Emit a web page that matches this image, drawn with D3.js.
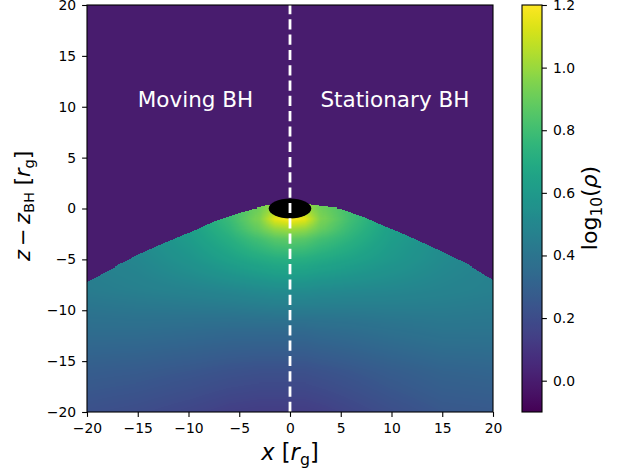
<!DOCTYPE html>
<html>
<head>
<meta charset="utf-8">
<script src="https://cdn.jsdelivr.net/npm/d3@7"></script>
<style>
  html, body { margin: 0; padding: 0; background: #fff; }
  svg { display: block; font-family: "DejaVu Sans", sans-serif; }
</style>
</head>
<body>
<script>
// Grid nodes (in r_g) on which log10(rho) is sampled
const X_NODES = [-20, -15, -10, -6, -3, -1.5, 0, 1.5, 3, 6, 10, 15, 20];
const Z_NODES = [-20, -16, -12, -8, -5, -3, -2, -1, 0, 1];

// log10(rho) at each (z, x) node; rows follow Z_NODES, columns follow X_NODES
const LOG_RHO_ROW_Zm20 = [0.22, 0.20, 0.17, 0.14, 0.13, 0.13, 0.13, 0.13, 0.14, 0.17, 0.21, 0.25, 0.26];
const LOG_RHO_ROW_Zm16 = [0.28, 0.27, 0.25, 0.23, 0.22, 0.22, 0.22, 0.22, 0.23, 0.25, 0.28, 0.31, 0.32];
const LOG_RHO_ROW_Zm12 = [0.36, 0.36, 0.35, 0.34, 0.34, 0.34, 0.34, 0.34, 0.35, 0.36, 0.38, 0.40, 0.40];
const LOG_RHO_ROW_Zm8  = [0.44, 0.46, 0.48, 0.50, 0.52, 0.53, 0.53, 0.53, 0.52, 0.51, 0.50, 0.48, 0.46];
const LOG_RHO_ROW_Zm5  = [0.46, 0.50, 0.57, 0.64, 0.69, 0.71, 0.72, 0.71, 0.69, 0.65, 0.59, 0.52, 0.47];
const LOG_RHO_ROW_Zm3  = [0.46, 0.52, 0.61, 0.71, 0.81, 0.86, 0.88, 0.86, 0.81, 0.73, 0.62, 0.53, 0.47];
const LOG_RHO_ROW_Zm2  = [0.46, 0.52, 0.62, 0.75, 0.90, 0.99, 1.02, 0.99, 0.90, 0.77, 0.63, 0.53, 0.47];
const LOG_RHO_ROW_Zm1  = [0.46, 0.52, 0.63, 0.78, 0.95, 1.15, 1.20, 1.15, 0.95, 0.80, 0.64, 0.54, 0.47];
const LOG_RHO_ROW_Z0   = [0.45, 0.51, 0.62, 0.78, 0.92, 1.02, 1.05, 1.02, 0.92, 0.80, 0.63, 0.53, 0.46];
const LOG_RHO_ROW_Z1   = [0.45, 0.51, 0.62, 0.78, 0.90, 0.98, 1.00, 0.98, 0.90, 0.80, 0.63, 0.53, 0.46];

// Upper surface of the dense flow, z(x), in r_g
const SURFACE_X = [-20, -17.5, -15, -12.5, -10, -7.5, -5, -2.5, 0, 2.5, 5, 7.5, 10, 12.5, 15, 17.5, 20];
const SURFACE_Z = [-7.2, -5.9, -4.55, -3.45, -2.4, -1.25, -0.4, 0.25, 0.6, 0.3, 0.0, -0.9, -2.0, -3.1, -4.25, -5.5, -7.0];

// Ambient (floor) density above the surface
const FLOOR_LOG_RHO = 0.0;

// Black-hole horizon drawn as an ellipse (semi-axes in r_g)
const BH_RX = 2.1;
const BH_RZ = 0.98;

const AXIS_TICKS = [-20, -15, -10, -5, 0, 5, 10, 15, 20];
const CBAR_TICKS = [0.0, 0.2, 0.4, 0.6, 0.8, 1.0, 1.2];
const CBAR_DOMAIN = [-0.1, 1.2];

const PANEL_LABELS = [
  { text: "Moving BH", x: -15, z: 10 },
  { text: "Stationary BH", x: 3, z: 10 }
];

const LOG_RHO = [LOG_RHO_ROW_Zm20, LOG_RHO_ROW_Zm16, LOG_RHO_ROW_Zm12, LOG_RHO_ROW_Zm8,
                 LOG_RHO_ROW_Zm5, LOG_RHO_ROW_Zm3, LOG_RHO_ROW_Zm2, LOG_RHO_ROW_Zm1,
                 LOG_RHO_ROW_Z0, LOG_RHO_ROW_Z1];

// ---- layout ----
const W = 629, H = 469;
const plot = { left: 87, right: 493, top: 5, bottom: 412 };
const cbar = { left: 522, right: 542, top: 5, bottom: 412 };
const FONT = 13.9;      // tick labels
const LABEL_FONT = 22;  // axis labels

const svg = d3.select("body").append("svg").attr("width", W).attr("height", H);
svg.append("rect").attr("width", W).attr("height", H).attr("fill", "#fff");

const x = d3.scaleLinear().domain([-20, 20]).range([plot.left, plot.right]);
const z = d3.scaleLinear().domain([-20, 20]).range([plot.bottom, plot.top]);
const color = d3.scaleSequential(d3.interpolateViridis).domain(CBAR_DOMAIN);
const surface = d3.scaleLinear().domain(SURFACE_X).range(SURFACE_Z).clamp(true);

// bilinear lookup on the (possibly uneven) node grid
function locate(nodes, v) {
  let i = d3.bisectRight(nodes, v) - 1;
  i = Math.max(0, Math.min(nodes.length - 2, i));
  let t = (v - nodes[i]) / (nodes[i + 1] - nodes[i]);
  t = Math.max(0, Math.min(1, t));
  return [i, t];
}
function logRho(xv, zv) {
  if (zv > surface(xv)) return FLOOR_LOG_RHO;
  const [i, tx] = locate(X_NODES, xv);
  const [j, tz] = locate(Z_NODES, zv);
  const a = LOG_RHO[j][i], b = LOG_RHO[j][i + 1];
  const c = LOG_RHO[j + 1][i], d = LOG_RHO[j + 1][i + 1];
  return (a * (1 - tx) + b * tx) * (1 - tz) + (c * (1 - tx) + d * tx) * tz;
}

// ---- density map, sampled on 0.1 r_g cells ----
const CELL = 0.1;
const pw = plot.right - plot.left, ph = plot.bottom - plot.top;
const canvas = document.createElement("canvas");
canvas.width = pw; canvas.height = ph;
const ctx = canvas.getContext("2d");
const img = ctx.createImageData(pw, ph);
for (let py = 0; py < ph; py++) {
  const zv = z.invert(plot.top + py + 0.5);
  const zq = (Math.floor((zv + 20) / CELL) + 0.5) * CELL - 20;
  for (let px = 0; px < pw; px++) {
    const xv = x.invert(plot.left + px + 0.5);
    const xq = (Math.floor((xv + 20) / CELL) + 0.5) * CELL - 20;
    const c = d3.rgb(color(logRho(xq, zq)));
    const k = (py * pw + px) * 4;
    img.data[k] = c.r; img.data[k + 1] = c.g; img.data[k + 2] = c.b; img.data[k + 3] = 255;
  }
}
ctx.putImageData(img, 0, 0);

svg.append("defs").append("clipPath").attr("id", "plotClip")
  .append("rect").attr("x", plot.left).attr("y", plot.top).attr("width", pw).attr("height", ph);

svg.append("image")
  .attr("href", canvas.toDataURL())
  .attr("x", plot.left).attr("y", plot.top)
  .attr("width", pw).attr("height", ph)
  .attr("preserveAspectRatio", "none");

const overlay = svg.append("g").attr("clip-path", "url(#plotClip)");

// horizon
overlay.append("ellipse")
  .attr("cx", x(0)).attr("cy", z(0))
  .attr("rx", x(BH_RX) - x(0)).attr("ry", z(0) - z(BH_RZ))
  .attr("fill", "#000");

// divider between the two runs
overlay.append("line")
  .attr("x1", x(0)).attr("x2", x(0))
  .attr("y1", z(-20)).attr("y2", z(20))
  .attr("stroke", "#fff").attr("stroke-width", 2.8)
  .attr("stroke-dasharray", "10.2,5.1");

overlay.selectAll("text.panel").data(PANEL_LABELS).join("text")
  .attr("class", "panel")
  .attr("x", d => x(d.x)).attr("y", d => z(d.z))
  .attr("fill", "#fff").attr("font-size", 21.5)
  .text(d => d.text);

// frame
svg.append("rect")
  .attr("x", plot.left).attr("y", plot.top).attr("width", pw).attr("height", ph)
  .attr("fill", "none").attr("stroke", "#000").attr("stroke-width", 1.1);

// axes
const fmtInt = d3.format("d");
const gx = svg.append("g").attr("transform", `translate(0,${plot.bottom})`)
  .call(d3.axisBottom(x).tickValues(AXIS_TICKS).tickFormat(fmtInt).tickSize(4.9).tickPadding(5.9));
const gy = svg.append("g").attr("transform", `translate(${plot.left},0)`)
  .call(d3.axisLeft(z).tickValues(AXIS_TICKS).tickFormat(fmtInt).tickSize(4.9).tickPadding(6));
[gx, gy].forEach(g => {
  g.select(".domain").remove();
  g.selectAll("line").attr("stroke", "#000").attr("stroke-width", 1.1);
  g.selectAll("text").attr("fill", "#000").attr("font-size", FONT).attr("font-family", "DejaVu Sans");
});

// x label:  x [r_g]
const XL_FONT = 22.5;
const xl = svg.append("text").attr("x", x(0)).attr("y", 460)
  .attr("text-anchor", "middle").attr("font-size", XL_FONT).attr("fill", "#000");
xl.append("tspan").attr("font-style", "italic").text("x");
xl.append("tspan").text(" [");
xl.append("tspan").attr("font-style", "italic").text("r");
xl.append("tspan").attr("font-size", XL_FONT * 0.7).attr("dy", 4.6).text("g");
xl.append("tspan").attr("dy", -4.6).text("]");

// y label:  z − z_BH [r_g]
const YL_FONT = 21;
const yl = svg.append("text")
  .attr("transform", `translate(30,206) rotate(-90)`)
  .attr("text-anchor", "middle").attr("font-size", YL_FONT).attr("fill", "#000");
yl.append("tspan").attr("font-style", "italic").text("z");
yl.append("tspan").text("\u2009\u2212\u2009");
yl.append("tspan").attr("font-style", "italic").text("z");
yl.append("tspan").attr("font-size", YL_FONT * 0.7).attr("dy", 4.4).text("BH");
yl.append("tspan").attr("dy", -4.4).text(" [");
yl.append("tspan").attr("font-style", "italic").text("r");
yl.append("tspan").attr("font-size", YL_FONT * 0.7).attr("dy", 4.4).text("g");
yl.append("tspan").attr("dy", -4.4).text("]");

// ---- colour bar ----
const cy = d3.scaleLinear().domain(CBAR_DOMAIN).range([cbar.bottom, cbar.top]);
const grad = svg.select("defs").append("linearGradient").attr("id", "cbarGrad")
  .attr("x1", 0).attr("y1", 1).attr("x2", 0).attr("y2", 0);
d3.range(0, 1.0001, 0.02).forEach(t => {
  grad.append("stop").attr("offset", t)
    .attr("stop-color", color(CBAR_DOMAIN[0] + t * (CBAR_DOMAIN[1] - CBAR_DOMAIN[0])));
});
svg.append("rect")
  .attr("x", cbar.left).attr("y", cbar.top)
  .attr("width", cbar.right - cbar.left).attr("height", cbar.bottom - cbar.top)
  .attr("fill", "url(#cbarGrad)")
  .attr("stroke", "#000").attr("stroke-width", 1.1);

const gc = svg.append("g").attr("transform", `translate(${cbar.right},0)`)
  .call(d3.axisRight(cy).tickValues(CBAR_TICKS).tickFormat(d3.format(".1f")).tickSize(4.9).tickPadding(6));
gc.select(".domain").remove();
gc.selectAll("line").attr("stroke", "#000").attr("stroke-width", 1.1);
gc.selectAll("text").attr("fill", "#000").attr("font-size", FONT).attr("font-family", "DejaVu Sans");

// colour bar label: log10(rho)
const cl = svg.append("text")
  .attr("transform", `translate(597,208) rotate(-90)`)
  .attr("text-anchor", "middle").attr("font-size", LABEL_FONT).attr("fill", "#000");
cl.append("tspan").text("log");
cl.append("tspan").attr("font-size", LABEL_FONT * 0.7).attr("dy", 4.5).text("10");
cl.append("tspan").attr("dy", -4.5).text("(");
cl.append("tspan").attr("font-style", "italic").text("\u03C1");
cl.append("tspan").text(")");
</script>
</body>
</html>
